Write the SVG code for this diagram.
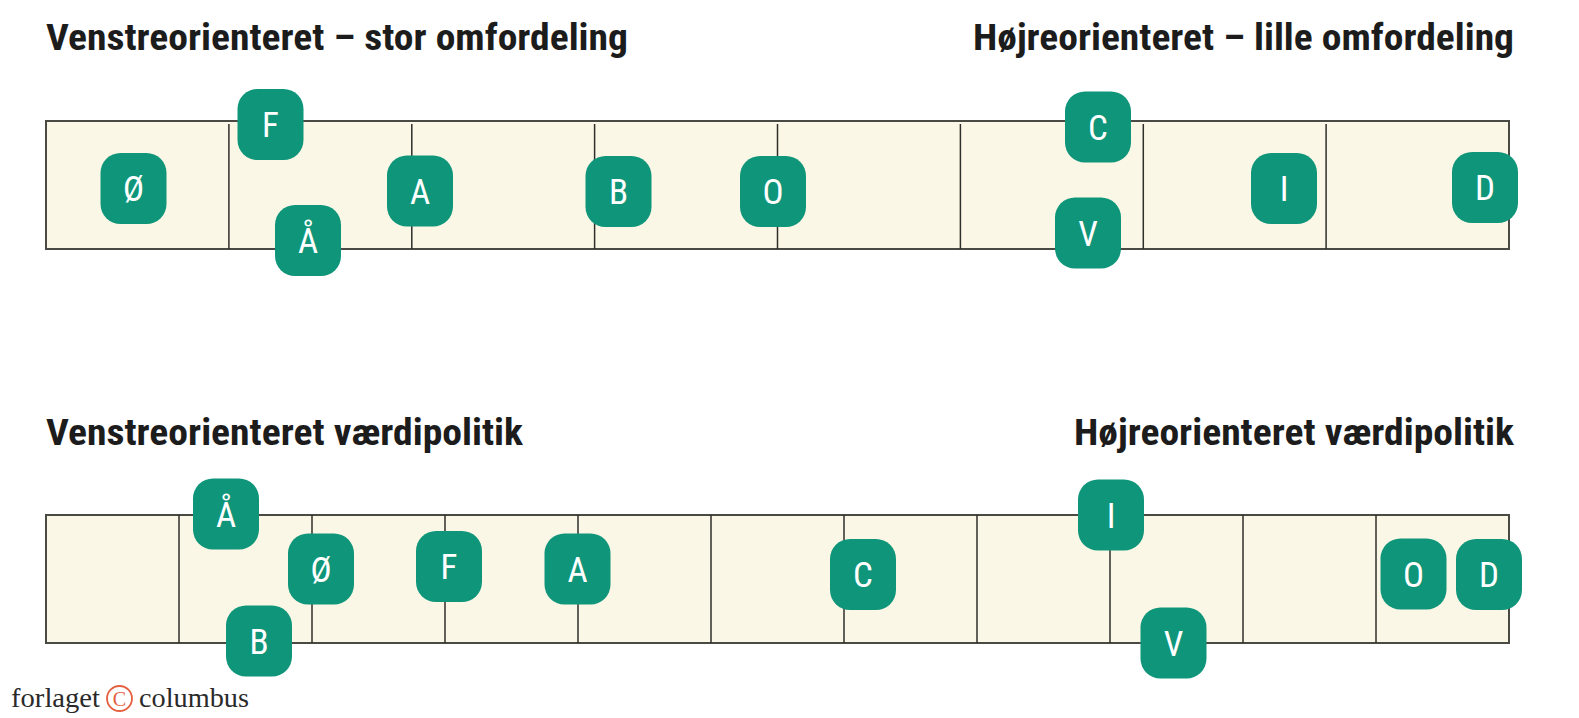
<svg xmlns="http://www.w3.org/2000/svg" width="1579" height="718" viewBox="0 0 1579 718">
<style>
.title{font-family:"Roboto Condensed",Roboto,"Liberation Sans",sans-serif;font-weight:bold;font-size:36.5px;fill:#1c1c1c;font-stretch:condensed}
.bar{fill:#fbf7e6;stroke:#4a4a44;stroke-width:2}
.div{stroke:#2e2e2a;stroke-width:1.5}
.node rect{fill:#0f967a}
.node text{font-family:"Roboto Condensed",Roboto,"Liberation Sans",sans-serif;font-size:35px;fill:#ffffff;text-anchor:middle;font-stretch:condensed}
.logo{font-family:"Liberation Serif",serif;font-size:27px;fill:#2a2a2a}
</style>
<rect width="1579" height="718" fill="#ffffff"/>
<g id="titles">
<text class="title" x="46" y="49.5" textLength="582" lengthAdjust="spacingAndGlyphs">Venstreorienteret – stor omfordeling</text>
<text class="title" x="973" y="49.5" textLength="541" lengthAdjust="spacingAndGlyphs">Højreorienteret – lille omfordeling</text>
<text class="title" x="46" y="444.5" textLength="477" lengthAdjust="spacingAndGlyphs">Venstreorienteret værdipolitik</text>
<text class="title" x="1074" y="444.5" textLength="440" lengthAdjust="spacingAndGlyphs">Højreorienteret værdipolitik</text>
</g>
<g id="scale-top">
<rect class="bar" x="46" y="121" width="1463" height="128"/>
<line class="div" x1="228.9" y1="124" x2="228.9" y2="249"/>
<line class="div" x1="411.8" y1="124" x2="411.8" y2="249"/>
<line class="div" x1="594.6" y1="124" x2="594.6" y2="249"/>
<line class="div" x1="777.5" y1="124" x2="777.5" y2="249"/>
<line class="div" x1="960.4" y1="124" x2="960.4" y2="249"/>
<line class="div" x1="1143.3" y1="124" x2="1143.3" y2="249"/>
<line class="div" x1="1326.1" y1="124" x2="1326.1" y2="249"/>
</g>
<g id="scale-bottom">
<rect class="bar" x="46" y="515" width="1463" height="128"/>
<line class="div" x1="179" y1="515" x2="179" y2="643"/>
<line class="div" x1="312" y1="515" x2="312" y2="643"/>
<line class="div" x1="445" y1="515" x2="445" y2="643"/>
<line class="div" x1="578" y1="515" x2="578" y2="643"/>
<line class="div" x1="711" y1="515" x2="711" y2="643"/>
<line class="div" x1="844" y1="515" x2="844" y2="643"/>
<line class="div" x1="977" y1="515" x2="977" y2="643"/>
<line class="div" x1="1110" y1="515" x2="1110" y2="643"/>
<line class="div" x1="1243" y1="515" x2="1243" y2="643"/>
<line class="div" x1="1376" y1="515" x2="1376" y2="643"/>
</g>
<g id="connectors"></g>
<g id="top-nodes">
<g id="t-OE" class="node"><rect x="100.5" y="153" width="66" height="71" rx="20"/><text x="133.5" y="201">Ø</text></g>
<g id="t-F" class="node"><rect x="237.5" y="89" width="66" height="71" rx="20"/><text x="270.5" y="137">F</text></g>
<g id="t-AA" class="node"><rect x="275" y="205" width="66" height="71" rx="20"/><text x="308" y="253">Å</text></g>
<g id="t-A" class="node"><rect x="387" y="155.5" width="66" height="71" rx="20"/><text x="420" y="203.5">A</text></g>
<g id="t-B" class="node"><rect x="585.5" y="156" width="66" height="71" rx="20"/><text x="618.5" y="204">B</text></g>
<g id="t-O" class="node"><rect x="740" y="156" width="66" height="71" rx="20"/><text x="773" y="204">O</text></g>
<g id="t-C" class="node"><rect x="1065" y="91.5" width="66" height="71" rx="20"/><text x="1098" y="139.5">C</text></g>
<g id="t-V" class="node"><rect x="1055" y="197.5" width="66" height="71" rx="20"/><text x="1088" y="245.5">V</text></g>
<g id="t-I" class="node"><rect x="1251" y="153" width="66" height="71" rx="20"/><text x="1284" y="201">I</text></g>
<g id="t-D" class="node"><rect x="1452" y="152" width="66" height="71" rx="20"/><text x="1485" y="200">D</text></g>
</g>
<g id="bottom-nodes">
<g id="b-AA" class="node"><rect x="193" y="478.5" width="66" height="71" rx="20"/><text x="226" y="526.5">Å</text></g>
<g id="b-OE" class="node"><rect x="288" y="533.5" width="66" height="71" rx="20"/><text x="321" y="581.5">Ø</text></g>
<g id="b-B" class="node"><rect x="226" y="605.5" width="66" height="71" rx="20"/><text x="259" y="653.5">B</text></g>
<g id="b-F" class="node"><rect x="416" y="531" width="66" height="71" rx="20"/><text x="449" y="579">F</text></g>
<g id="b-A" class="node"><rect x="544.5" y="533.5" width="66" height="71" rx="20"/><text x="577.5" y="581.5">A</text></g>
<g id="b-C" class="node"><rect x="830" y="539" width="66" height="71" rx="20"/><text x="863" y="587">C</text></g>
<g id="b-I" class="node"><rect x="1078" y="479.5" width="66" height="71" rx="20"/><text x="1111" y="527.5">I</text></g>
<g id="b-V" class="node"><rect x="1140.5" y="607.5" width="66" height="71" rx="20"/><text x="1173.5" y="655.5">V</text></g>
<g id="b-O" class="node"><rect x="1380.5" y="538.5" width="66" height="71" rx="20"/><text x="1413.5" y="586.5">O</text></g>
<g id="b-D" class="node"><rect x="1456" y="539" width="66" height="71" rx="20"/><text x="1489" y="587">D</text></g>
</g>
<g id="logo">
<text class="logo" x="11" y="707" textLength="89" lengthAdjust="spacingAndGlyphs">forlaget</text>
<circle cx="119.5" cy="698.5" r="12.5" fill="none" stroke="#e4603f" stroke-width="1.8"/>
<text x="119.5" y="705.5" font-family="Liberation Serif,serif" font-size="20" fill="#e4603f" text-anchor="middle">C</text>
<text class="logo" x="139" y="707" textLength="110" lengthAdjust="spacingAndGlyphs">columbus</text>
</g>
</svg>
